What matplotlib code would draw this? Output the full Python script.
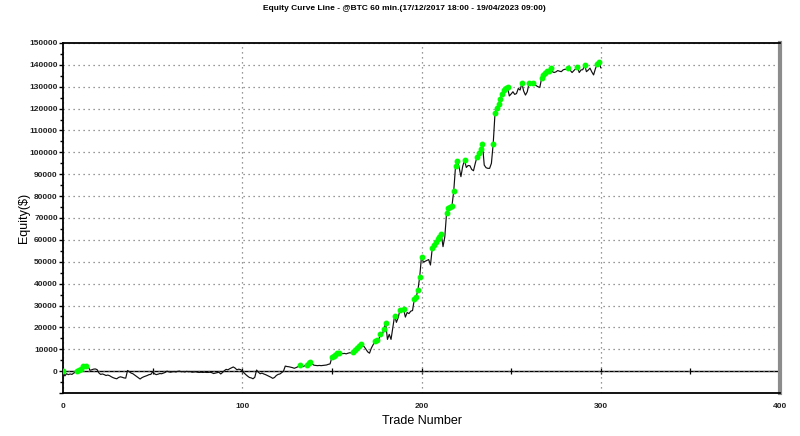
import numpy as np
import matplotlib.pyplot as plt
from matplotlib.ticker import MultipleLocator, FuncFormatter

plt.rcParams['font.family'] = ['Liberation Sans', 'DejaVu Sans']

# Equity after each trade (trade 0 .. 300)
equity = [
    0, -2200, -1200, -1600, -1300, -1500, -900, -500, 200, 500,
    800, 2300, 2300, 2400, 2200, 400, 600, 900, 1000, 700,
    -800, -1500, -1300, -1600, -2000, -1800, -2100, -2600, -3000, -3300,
    -3500, -2900, -2600, -2800, -3100, -3200, 300, -300, -900, -1200,
    -1800, -2400, -3000, -3600, -3000, -2600, -2300, -2000, -1600, -1500,
    -300, -1200, -1600, -1400, -1100, -1200, -900, -600, 0, -300,
    -500, -300, -200, -400, -100, 0, -300, -200, -400, -100,
    -300, -200, -500, -400, -300, -500, -600, -500, -600, -500,
    -600, -600, -500, -700, -1100, -900, -700, -500, -1300, -600,
    200, 800, 600, 1100, 1500, 1900, 1400, 600, 900, 700,
    200, -800, -1600, -2300, -2900, -3100, -3500, -2800, 500, -500,
    -1200, -900, -1300, -1600, -2000, -2400, -2800, -3300, -2900, -2000,
    -1500, -1300, -700, 0, 2300, 2100, 2000, 1800, 1600, 1300,
    1600, 2000, 2700, 2300, 2100, 2500, 2900, 3500, 4000, 3200,
    2700, 2600, 2500, 2600, 2500, 2600, 2700, 2800, 3100, 3300,
    6300, 7000, 7600, 8200, 8500, 8300, 8000, 8100, 7900, 8200,
    8400, 8300, 8800, 9800, 10600, 11500, 12400, 11800, 11200, 10000,
    8800, 8200, 10500, 12000, 13600, 14400, 13800, 16800, 16200, 19300,
    22000, 14500, 16800, 14500, 20000, 25300, 22300, 24500, 28000, 27600,
    28300, 24700, 26800, 26300, 27400, 27700, 32900, 33800, 37100, 43100,
    52400, 49800, 50200, 50600, 51000, 48500, 56100, 57500, 59100, 60400,
    61400, 62700, 56900, 61400, 72400, 74400, 75000, 75500, 82500, 93700,
    96200, 93100, 88900, 93700, 96400, 93100, 94000, 93900, 92200, 91600,
    95000, 98000, 99800, 101500, 103700, 94200, 93000, 92700, 92700, 95000,
    103900, 117800, 120100, 122100, 124500, 126900, 128300, 129500, 129700, 125800,
    126700, 127700, 126500, 126900, 129200, 128500, 131500, 128000, 126200, 127700,
    131600, 131200, 131800, 131000, 130500, 130000, 129700, 133800, 135400, 136500,
    137000, 137400, 138500, 136900, 136500, 136800, 137400, 137100, 136900, 137700,
    138000, 138000, 138600, 137500, 136500, 137400, 138200, 138900, 136500, 137700,
    137800, 140000, 136900, 137600, 138500, 136800, 135400, 138200, 140300, 141300,
    138700,
]
trades = np.arange(len(equity))
equity = np.array(equity)

# new equity highs get a green dot
peak = np.maximum.accumulate(equity)
is_high = np.r_[True, equity[1:] > peak[:-1]]

fig = plt.figure(figsize=(8, 4.36), dpi=100)
ax = fig.add_axes([63 / 800, 43 / 436, 717 / 800, 350 / 436])

ax.plot(trades, equity, color='#111111', lw=0.85, zorder=3)
ax.plot(trades[is_high], equity[is_high], 'o', color='#00ff00', ms=3.2,
        mec='#00ff00', zorder=4)

ax.set_xlim(0, 400)
ax.set_ylim(-10000, 150000)
ax.xaxis.set_major_locator(MultipleLocator(100))
ax.yaxis.set_major_locator(MultipleLocator(10000))
ax.yaxis.set_minor_locator(MultipleLocator(5000))
ax.yaxis.set_major_formatter(FuncFormatter(lambda v, p: '' if v < 0 else f'{v:.0f}'))

ax.grid(True, which='major', ls=(0, (1, 3)), color='#777777', lw=0.9)

# zero line with its own small ticks every 50 trades
zero = ax.secondary_xaxis(10000 / 160000)
zero.set_xticks(np.arange(50, 400, 50))
zero.tick_params(direction='inout', length=5, width=0.9, labelbottom=False,
                 labeltop=False, color='black')
zero.spines['bottom'].set_linewidth(1.0)
zero.spines['top'].set_linewidth(1.0)

ax.tick_params(axis='y', which='major', length=3, width=1, direction='out',
               labelsize=6, pad=0.8, labelcolor='#222222')
ax.tick_params(axis='y', which='minor', length=2.5, width=1, direction='out')
ax.tick_params(axis='x', length=0, pad=7, labelsize=6, labelcolor='#222222')
for lab in ax.get_xticklabels() + ax.get_yticklabels():
    lab.set_fontweight('bold')

for side in ['left', 'bottom', 'top']:
    ax.spines[side].set_linewidth(1.3)
    ax.spines[side].set_color('black')
ax.spines['right'].set_linewidth(3)
ax.spines['right'].set_color('#8c8c8c')

ax.set_xlabel('Trade Number', fontsize=9, labelpad=4)
ax.set_ylabel('Equity($)', fontsize=9)
ax.yaxis.set_label_coords(-(63 - 30) / 717, 0.5)

fig.text(0.505, 1 - 9 / 436,
         'Equity Curve Line - @BTC 60 min.(17/12/2017 18:00 - 19/04/2023 09:00)',
         ha='center', va='center', fontsize=6, fontweight='bold')

fig.savefig('out.png', dpi=100, facecolor='white')
